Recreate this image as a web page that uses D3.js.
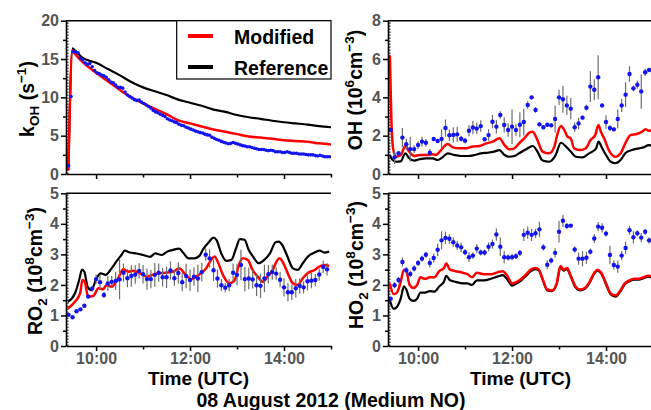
<!DOCTYPE html>
<html><head><meta charset="utf-8">
<script src="https://cdn.jsdelivr.net/npm/d3@7"></script>
<style>
body{margin:0;background:#fff}
svg text{font-family:"Liberation Sans",Arial,sans-serif;font-weight:bold}
</style></head><body>
<svg id="c" width="651" height="410"></svg>
<script>
// ---------------- DATA ----------------
const obsTime = ["09:25","09:30","09:35","09:40","09:45","09:50","09:55",
"10:00","10:05","10:10","10:15","10:20","10:25","10:30","10:35","10:40","10:45","10:50","10:55",
"11:00","11:05","11:10","11:15","11:20","11:25","11:30","11:35","11:40","11:45","11:50","11:55",
"12:00","12:05","12:10","12:15","12:20","12:25","12:30","12:35","12:40","12:45","12:50","12:55",
"13:00","13:05","13:10","13:15","13:20","13:25","13:30","13:35","13:40","13:45","13:50","13:55",
"14:00","14:05","14:10","14:15","14:20","14:25","14:30","14:35","14:40","14:45","14:50","14:55"];

const ohObs = [2.30,0.87,1.08,1.90,1.55,1.30,1.30,1.51,1.69,1.63,1.11,1.83,1.72,1.83,2.40,2.02,2.04,2.07,1.84,1.74,
2.26,2.43,2.37,2.50,1.81,2.03,2.73,2.47,3.08,2.56,2.30,2.47,2.30,2.57,2.71,3.60,4.00,3.34,2.59,2.44,
2.57,2.54,2.87,4.00,3.90,3.58,3.41,2.44,2.64,2.94,3.46,4.56,4.40,5.05,3.58,2.71,2.40,2.33,2.87,3.58,
4.14,5.22,4.47,4.66,4.31,5.31,5.43];
const ohErr = [0.1,0.35,0.1,0.5,0.3,0.65,0.2,0.2,0.25,0.2,0.2,0.1,0.1,0.5,0.45,0.3,0.4,0.4,0.15,0.15,
0.3,0.35,0.3,0.3,0.1,0.3,0.35,0.35,0.2,0.4,0.35,0.9,0.3,0.65,0.7,0.2,0.1,0.15,0.1,0.1,
0.1,0.1,0.7,0.4,0.7,0.5,0.55,0.25,0.3,0.1,0.15,0.8,0.55,1.15,0.1,0.35,0.15,0.1,0.5,0.35,
0.65,0.4,0.15,0.2,0.9,0.2,0.1];

const ro2Obs = [1.02,0.94,1.14,1.20,1.32,1.62,1.88,2.19,2.09,1.67,2.05,2.10,2.13,2.18,2.40,2.22,2.29,2.34,2.46,2.35,
2.19,2.19,2.33,2.40,2.25,2.25,2.47,2.22,2.39,2.09,2.29,2.16,2.27,2.21,2.42,2.99,2.87,2.48,2.21,1.99,
1.91,1.99,2.40,2.33,2.65,2.19,2.21,2.18,1.99,1.97,2.21,2.35,2.42,2.37,2.17,1.92,1.76,1.76,1.89,1.97,
1.92,2.12,2.14,2.16,2.34,2.59,2.51];
const ro2Err = [0.05,0.05,0.05,0.05,0.05,0.05,0.1,0.15,0.25,0.1,0.25,0.2,0.3,0.65,0.3,0.3,0.35,0.3,0.25,0.3,
0.35,0.3,0.4,0.3,0.3,0.35,0.3,0.25,0.35,0.3,0.4,0.35,0.3,0.45,0.3,0.2,0.3,0.35,0.3,0.2,
0.15,0.2,0.3,0.35,0.5,0.4,0.35,0.3,0.35,0.4,0.45,0.3,0.25,0.2,0.25,0.3,0.3,0.25,0.3,0.25,
0.2,0.3,0.25,0.2,0.2,0.2,0.2];

const ho2Obs = [1.55,1.99,2.16,2.75,2.48,2.36,2.54,2.72,2.86,2.99,2.72,2.88,3.15,3.46,3.54,3.51,3.40,3.29,3.23,3.07,
2.91,2.96,3.19,3.06,3.06,3.25,3.34,3.65,3.25,2.91,2.90,2.91,2.94,3.05,3.64,3.71,3.64,3.69,3.82,3.23,
2.66,2.80,3.05,3.74,4.10,3.93,3.94,3.16,2.86,2.86,2.89,3.09,3.52,3.91,3.87,3.68,2.98,2.65,2.60,2.96,
3.21,3.79,3.56,3.69,3.55,3.74,3.46];
const ho2Err = [0.05,0.1,0.1,0.15,0.1,0.1,0.1,0.1,0.1,0.1,0.15,0.15,0.2,0.3,0.2,0.15,0.15,0.15,0.15,0.1,
0.15,0.1,0.15,0.1,0.1,0.15,0.15,0.2,0.3,0.2,0.1,0.1,0.1,0.1,0.2,0.2,0.2,0.15,0.25,0.1,
0.15,0.1,0.15,0.35,0.2,0.1,0.05,0.1,0.2,0.25,0.2,0.1,0.15,0.15,0.15,0.1,0.3,0.15,0.2,0.15,
0.2,0.15,0.2,0.1,0.15,0.1,0.1];

const kohTime = ["09:25","09:28","09:31","09:34","09:37","09:40","09:43","09:46","09:49","09:52","09:55","09:58",
"10:01","10:04","10:07","10:10","10:13","10:16","10:19","10:22","10:25","10:28","10:31","10:34","10:37","10:40","10:43","10:46","10:49","10:52","10:55","10:58",
"11:01","11:04","11:07","11:10","11:13","11:16","11:19","11:22","11:25","11:28","11:31","11:34","11:37","11:40","11:43","11:46","11:49","11:52","11:55","11:58",
"12:01","12:04","12:07","12:10","12:13","12:16","12:19","12:22","12:25","12:28","12:31","12:34","12:37","12:40","12:43","12:46","12:49","12:52","12:55","12:58",
"13:01","13:04","13:07","13:10","13:13","13:16","13:19","13:22","13:25","13:28","13:31","13:34","13:37","13:40","13:43","13:46","13:49","13:52","13:55","13:58",
"14:01","14:04","14:07","14:10","14:13","14:16","14:19","14:22","14:25","14:28","14:31","14:34","14:37","14:40","14:43","14:46","14:49","14:52","14:55","14:58"];
const kohObs = [1.09,10.1,15.96,15.9,15.8,15.1,14.9,14.5,14.3,14.4,14.0,13.5,13.2,13.1,12.9,12.8,12.6,12.3,12.0,11.9,
11.6,11.3,11.3,11.2,10.7,10.3,10.1,9.9,9.7,9.6,9.65,9.4,9.2,9.0,8.8,8.6,8.3,8.1,8.0,7.8,
7.65,7.5,7.2,7.05,6.95,6.8,6.7,6.5,6.35,6.3,6.1,6.0,5.85,5.75,5.6,5.5,5.4,5.35,5.2,5.1,
5.05,4.8,4.65,4.5,4.4,4.25,4.15,4.05,3.95,4.0,4.1,4.0,3.9,3.8,3.7,3.65,3.55,3.55,3.45,3.35,
3.3,3.2,3.2,3.2,3.1,3.05,3.1,3.05,2.9,2.9,2.9,2.8,2.8,2.9,2.8,2.7,2.7,2.7,2.6,2.6,
2.6,2.55,2.5,2.5,2.5,2.4,2.35,2.45,2.35,2.25,2.25,2.25];

// model lines: times (decimal hours) and values
const kohLineT = [9.41,9.50,9.55,9.62,9.70,10.0,10.25,10.5,10.75,11.0,11.25,11.5,11.75,12.0,12.25,12.5,12.75,13.0,13.25,13.5,13.75,14.0,14.25,14.5,14.75,15.0];
const kohMod = [0.5,16.1,15.7,15.2,14.7,13.2,12.1,11.0,10.0,9.2,8.5,7.8,7.0,6.6,6.2,5.8,5.5,5.2,4.9,4.75,4.6,4.4,4.3,4.2,4.0,3.85];
const kohRef = [0.5,16.4,16.1,15.7,15.2,14.5,13.7,12.9,12.0,11.3,10.8,10.3,9.7,9.3,8.9,8.4,8.1,7.7,7.4,7.2,6.95,6.75,6.6,6.45,6.25,6.1];

const ohModT = [9.40,9.43,9.47,9.53,9.63,9.73,9.81,9.92,10.03,10.17,10.31,10.38,10.49,10.63,10.74,10.88,11.02,11.16,11.30,11.45,11.59,11.73,11.84,11.94,12.05,12.15,12.26,12.37,12.44,12.54,12.65,12.79,12.90,12.97,13.04,13.11,13.18,13.25,13.32,13.46,13.57,13.67,13.77,13.84,13.89,13.96,14.06,14.20,14.31,14.41,14.52,14.66,14.77,14.84,14.91,15.0];
const ohMod = [6.2,3.0,1.3,0.9,0.99,1.46,1.17,0.94,0.99,0.99,1.03,0.99,1.25,1.57,1.39,1.34,1.34,1.43,1.46,1.60,1.69,1.86,1.51,1.29,1.34,1.60,1.86,2.16,2.21,1.77,1.17,1.08,1.43,2.12,2.50,2.30,1.95,1.86,1.34,1.25,1.34,1.77,2.03,2.56,2.21,1.86,1.25,0.90,1.08,1.60,2.03,2.09,2.21,2.33,2.26,2.30];
const ohRefT = [9.40,9.45,9.53,9.63,9.73,9.81,9.92,10.03,10.17,10.31,10.42,10.52,10.63,10.77,10.91,11.05,11.20,11.34,11.48,11.62,11.73,11.84,11.94,12.05,12.15,12.30,12.44,12.54,12.65,12.79,12.93,13.04,13.15,13.25,13.36,13.50,13.64,13.79,13.84,13.91,14.00,14.10,14.20,14.31,14.41,14.55,14.70,14.80,14.91,15.0];
const ohRef = [1.0,0.75,0.64,0.66,1.08,0.82,0.70,0.77,0.82,0.82,0.73,0.87,1.08,0.99,0.94,0.94,0.99,1.08,1.11,1.17,1.25,0.99,0.90,0.94,1.08,1.29,1.46,1.17,0.70,0.64,0.99,1.63,1.43,1.17,0.90,0.87,1.08,1.34,1.69,1.39,0.99,0.64,0.56,0.73,1.08,1.25,1.34,1.39,1.51,1.45];

const ro2ModT = [9.40,9.55,9.66,9.71,9.76,9.83,9.94,10.05,10.15,10.22,10.33,10.47,10.58,10.68,10.79,10.94,11.08,11.20,11.33,11.48,11.63,11.77,11.91,12.02,12.13,12.23,12.34,12.45,12.52,12.59,12.70,12.84,12.95,13.04,13.12,13.23,13.33,13.44,13.55,13.65,13.76,13.85,13.90,13.97,14.05,14.19,14.29,14.40,14.50,14.65,14.75,14.86,14.96];
const ro2Mod = [1.23,1.45,1.72,2.16,2.10,1.62,1.64,1.89,1.86,2.00,1.94,2.22,2.51,2.43,2.46,2.38,2.27,2.33,2.38,2.40,2.43,2.54,2.33,2.18,2.27,2.38,2.54,2.82,2.93,2.76,2.33,2.05,2.16,2.65,2.87,2.82,2.49,2.27,2.10,2.27,2.49,2.79,2.87,2.76,2.49,2.05,2.00,2.22,2.38,2.49,2.60,2.65,2.62];
const ro2RefT = [9.40,9.55,9.64,9.70,9.75,9.82,9.90,10.01,10.10,10.20,10.33,10.43,10.54,10.61,10.72,10.86,11.00,11.15,11.26,11.40,11.51,11.62,11.77,11.85,11.97,12.09,12.20,12.28,12.40,12.50,12.57,12.66,12.77,12.88,12.98,13.06,13.16,13.25,13.34,13.46,13.58,13.70,13.82,13.89,13.96,14.06,14.19,14.29,14.40,14.51,14.65,14.76,14.86,14.96];
const ro2Ref = [1.45,1.72,2.16,2.50,2.43,1.94,1.83,2.22,2.38,2.33,2.54,2.76,2.98,3.12,3.06,3.03,2.98,2.92,3.03,2.98,3.09,3.14,3.19,3.06,2.87,2.87,2.95,3.17,3.40,3.55,3.45,3.05,2.79,2.82,3.20,3.50,3.48,3.14,2.93,2.71,2.82,3.03,3.40,3.42,3.31,2.98,2.54,2.49,2.71,2.93,3.06,3.12,3.06,3.09];

const ho2LineT = [9.40,9.48,9.55,9.63,9.70,9.75,9.82,9.90,9.98,10.05,10.15,10.25,10.35,10.45,10.55,10.60,10.68,10.80,10.95,11.05,11.15,11.25,11.40,11.55,11.70,11.80,11.90,12.00,12.10,12.20,12.30,12.40,12.50,12.57,12.65,12.75,12.85,12.95,13.03,13.10,13.17,13.25,13.35,13.45,13.55,13.65,13.75,13.82,13.90,14.00,14.10,14.20,14.30,14.40,14.50,14.60,14.70,14.80,14.90,15.00];
const ho2Mod = [2.05,1.70,1.75,2.10,2.50,2.45,2.00,1.90,2.00,2.25,2.20,2.25,2.25,2.45,2.55,2.70,2.50,2.45,2.40,2.35,2.25,2.40,2.35,2.35,2.42,2.45,2.30,2.05,2.10,2.20,2.35,2.50,2.55,2.50,2.20,1.85,1.82,2.05,2.62,2.50,2.55,2.30,1.95,1.85,1.90,2.10,2.40,2.50,2.40,2.05,1.72,1.65,1.80,2.05,2.15,2.20,2.20,2.25,2.30,2.25];
const ho2Ref = [1.50,1.22,1.28,1.55,1.95,1.85,1.55,1.48,1.55,1.75,1.75,1.80,1.78,1.95,2.10,2.30,2.15,2.10,2.05,2.05,2.00,2.15,2.15,2.20,2.28,2.32,2.18,1.98,2.05,2.15,2.30,2.45,2.52,2.48,2.18,1.82,1.80,2.03,2.58,2.47,2.52,2.27,1.92,1.82,1.87,2.07,2.37,2.47,2.37,2.02,1.69,1.62,1.77,2.02,2.12,2.17,2.17,2.22,2.27,2.22];

const xTicks = [10,11,12,13,14,15];
const xTickLabels = ["10:00","","12:00","","14:00",""];
const kohTicks = [0,5,10,15,20];
const ohTicks = [0,2,4,6,8];
const radTicks = [0,1,2,3,4,5];
const legendLabels = ["Modified","Reference"];
const xTitle = "Time (UTC)";
const mainTitle = "08 August 2012 (Medium NO)";

// ---------------- DRAW ----------------
const svg = d3.select("#c");
const hm = s => { const p = s.split(":").map(Number); return p[0] + p[1]/60; };
const RED = "#ff0000", BLUE = "#1414f0";

function richLabel(x, y, segs, rot) {
  const t = svg.append("text")
    .attr("transform", `translate(${x},${y})` + (rot ? " rotate(-90)" : ""))
    .attr("text-anchor", "middle").attr("font-size", 19.5).attr("fill", "#000");
  let shift = 0;
  segs.forEach(s => {
    const target = s.sub ? 5 : (s.sup ? -8 : 0);
    const ts = t.append("tspan").text(s.t);
    if (target !== shift) ts.attr("dy", target - shift);
    if (s.sub || s.sup) ts.attr("font-size", 13.5);
    shift = target;
  });
  return t;
}

let clipId = 0;
function panel(cfg) {
  const x = d3.scaleLinear().domain([9.36, 15]).range([cfg.x0, cfg.x1]);
  const y = d3.scaleLinear().domain([0, cfg.ymax]).range([cfg.yb, cfg.yt]);
  const g = svg.append("g");
  const id = "clip" + (clipId++);
  svg.append("clipPath").attr("id", id).append("rect")
    .attr("x", cfg.x0).attr("y", cfg.yt).attr("width", cfg.x1 - cfg.x0).attr("height", cfg.yb - cfg.yt);

  g.append("line").attr("x1", cfg.x0).attr("x2", cfg.x1).attr("y1", cfg.yt).attr("y2", cfg.yt)
    .attr("stroke", "#000").attr("stroke-width", 1.5);
  g.append("line").attr("x1", x(9.4)).attr("x2", x(9.4)).attr("y1", cfg.yb).attr("y2", cfg.yt)
    .attr("stroke", "#000").attr("stroke-width", 1).attr("stroke-dasharray", "1.5,1.5");

  const dg = g.append("g").attr("clip-path", `url(#${id})`);
  const line = d3.line().x(d => x(d[0])).y(d => y(d[1])).curve(d3.curveMonotoneX);
  dg.append("path").datum(d3.zip(cfg.refT, cfg.ref)).attr("d", line)
    .attr("fill", "none").attr("stroke", "#000").attr("stroke-width", 2.2).attr("stroke-linejoin", "round");
  dg.append("path").datum(d3.zip(cfg.modT, cfg.mod)).attr("d", line)
    .attr("fill", "none").attr("stroke", RED).attr("stroke-width", 2.5).attr("stroke-linejoin", "round");

  const obs = cfg.obsT.map((t, i) => ({t: hm(t), v: cfg.obs[i], e: cfg.err ? cfg.err[i] : 0}));
  if (cfg.err) {
    dg.selectAll(".eb").data(obs).join("line")
      .attr("x1", d => x(d.t)).attr("x2", d => x(d.t))
      .attr("y1", d => y(d.v - d.e)).attr("y2", d => y(d.v + d.e))
      .attr("stroke", "#6e6e6e").attr("stroke-width", 1.2);
  }
  dg.selectAll(".pt").data(obs).join("circle")
    .attr("cx", d => x(d.t)).attr("cy", d => y(d.v)).attr("r", cfg.r)
    .attr("fill", BLUE);

  // x axis
  const xa = g.append("g").attr("transform", `translate(0,${cfg.yb})`)
    .call(d3.axisBottom(x).tickValues(xTicks).tickSize(5).tickSizeOuter(0)
      .tickFormat((d, i) => cfg.xlab ? xTickLabels[i] : ""));
  xa.attr("font-family", null).attr("font-size", null);
  xa.select(".domain").attr("stroke-width", 1.6);
  xa.selectAll(".tick line").attr("stroke-width", 1.5).attr("y2", (d, i) => xTickLabels[i] ? 5 : 3.5);
  xa.selectAll(".tick text").attr("font-size", 16).attr("fill", "#555").attr("y", 6.5);

  // y axis
  const major = cfg.ticks;
  const step = major[1] - major[0];
  const minor = major.slice(0, -1).map(v => v + step / 2);
  const ya = g.append("g").attr("transform", `translate(${cfg.x0},0)`)
    .call(d3.axisLeft(y).tickValues(major.concat(minor)).tickSize(5).tickSizeOuter(0)
      .tickFormat(d => major.includes(d) ? d : ""));
  ya.attr("font-family", null).attr("font-size", null);
  ya.select(".domain").attr("stroke-width", 1.6);
  ya.selectAll(".tick line").attr("stroke-width", 1.5).attr("x2", d => major.includes(d) ? -5 : -3);
  ya.selectAll(".tick text").attr("font-size", 16).attr("fill", "#555").attr("x", -7);
  return {x, y};
}

const L = {x0: 66, x1: 331}, R = {x0: 388, x1: 653};
const T = {yb: 174, yt: 20.7}, B = {yb: 346, yt: 193.3};

panel({...L, ...T, ymax: 20, ticks: kohTicks, xlab: false, r: 1.8,
  obsT: kohTime, obs: kohObs, err: null, modT: kohLineT, mod: kohMod, refT: kohLineT, ref: kohRef});
panel({...R, ...T, ymax: 8, ticks: ohTicks, xlab: false, r: 2.2,
  obsT: obsTime, obs: ohObs, err: ohErr, modT: ohModT, mod: ohMod, refT: ohRefT, ref: ohRef});
panel({...L, ...B, ymax: 5, ticks: radTicks, xlab: true, r: 2.2,
  obsT: obsTime, obs: ro2Obs, err: ro2Err, modT: ro2ModT, mod: ro2Mod, refT: ro2RefT, ref: ro2Ref});
panel({...R, ...B, ymax: 5, ticks: radTicks, xlab: true, r: 2.2,
  obsT: obsTime, obs: ho2Obs, err: ho2Err, modT: ho2LineT, mod: ho2Mod, refT: ho2LineT, ref: ho2Ref});

// legend
const lg = svg.append("g");
lg.append("rect").attr("x", 176.7).attr("y", 20.7).attr("width", 331 - 176.7).attr("height", 79 - 20.7)
  .attr("fill", "#fff").attr("stroke", "#000").attr("stroke-width", 1.2);
[[RED, 36], ["#000", 67]].forEach((c, i) => {
  lg.append("line").attr("x1", 188).attr("x2", 213).attr("y1", c[1]).attr("y2", c[1])
    .attr("stroke", c[0]).attr("stroke-width", 4);
  lg.append("text").attr("x", 234).attr("y", c[1] + 7.5).attr("font-size", 19.5).attr("fill", "#000")
    .text(legendLabels[i]);
});

// axis titles
svg.append("text").attr("x", 198.5).attr("y", 385).attr("text-anchor", "middle").attr("font-size", 19).text(xTitle);
svg.append("text").attr("x", 520.5).attr("y", 385).attr("text-anchor", "middle").attr("font-size", 19).text(xTitle);
svg.append("text").attr("x", 331).attr("y", 407).attr("text-anchor", "middle").attr("font-size", 19.5).text(mainTitle);

richLabel(34, 99, [{t: "k"}, {t: "OH", sub: 1}, {t: " (s"}, {t: "\u22121", sup: 1}, {t: ")"}], true);
richLabel(362, 90, [{t: "OH (10"}, {t: "6", sup: 1}, {t: "cm"}, {t: "\u22123", sup: 1}, {t: ")"}], true);
richLabel(42, 271, [{t: "RO"}, {t: "2", sub: 1}, {t: " (10"}, {t: "8", sup: 1}, {t: "cm"}, {t: "\u22123", sup: 1}, {t: ")"}], true);
richLabel(363, 265, [{t: "HO"}, {t: "2", sub: 1}, {t: " (10"}, {t: "8", sup: 1}, {t: "cm"}, {t: "\u22123", sup: 1}, {t: ")"}], true);
</script></body></html>
